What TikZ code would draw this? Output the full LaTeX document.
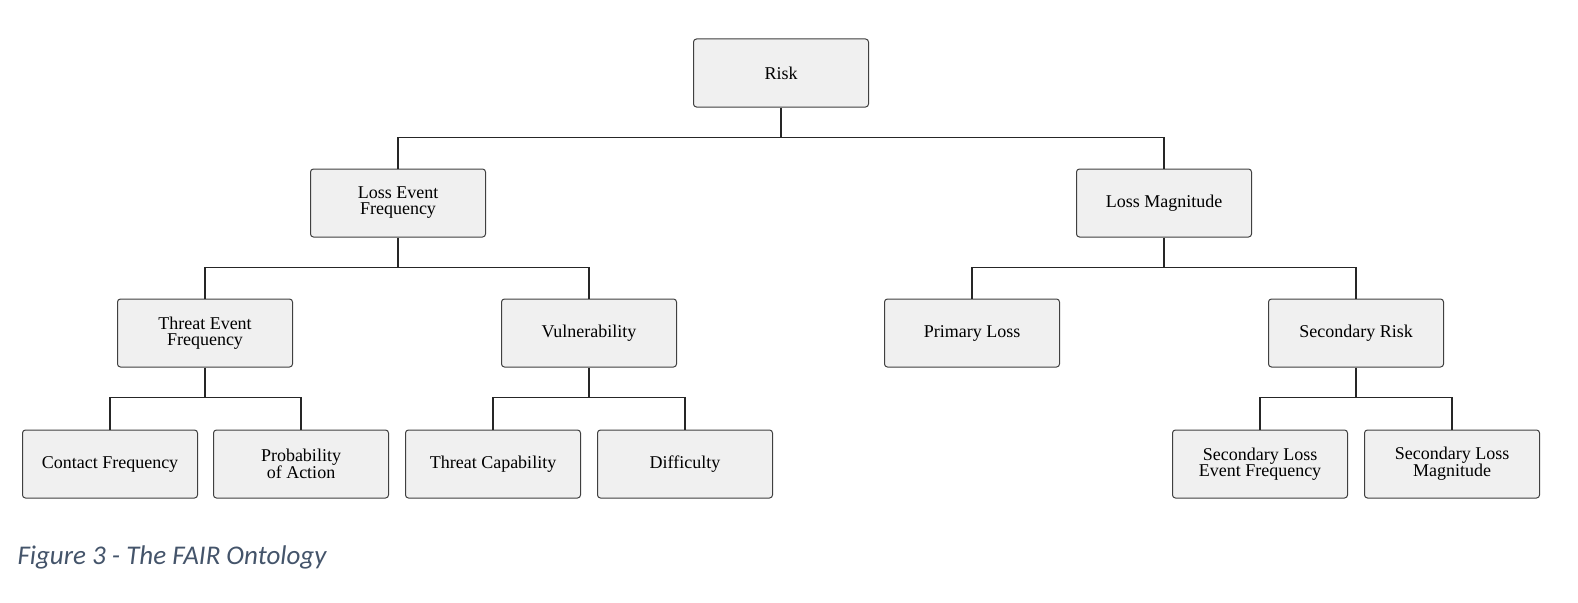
\documentclass[tikz,border=0pt]{standalone}
\usepackage{fontspec}
\setmainfont{Liberation Serif}
\newfontfamily\capfont{Carlito}
\definecolor{capcol}{HTML}{44546A}
\begin{document}
\begin{tikzpicture}[x=1pt,y=-1pt,
  box/.style={draw=black!75,fill=black!6,rounded corners=3pt,minimum width=175pt,minimum height=68pt,align=center,font=\fontsize{18}{16}\selectfont,line width=1pt},
  conn/.style={draw=black!85,line width=1.3pt}]
\useasboundingbox (0,0) rectangle (1578,602);
\node[box] (risk) at (781,73) {Risk};
\node[box] (lef) at (398,203) {Loss Event\\Frequency};
\node[box] (lm) at (1164,203) {Loss Magnitude};
\node[box] (tef) at (205,333) {Threat Event\\Frequency};
\node[box] (vul) at (589,333) {Vulnerability};
\node[box] (pl) at (972,333) {Primary Loss};
\node[box] (sr) at (1356,333) {Secondary Risk};
\node[box] (cf) at (110,464) {Contact Frequency};
\node[box] (poa) at (301,464) {Probability\\of Action};
\node[box] (tc) at (493,464) {Threat Capability};
\node[box] (dif) at (685,464) {Difficulty};
\node[box] (slef) at (1260,464) {Secondary Loss\\Event Frequency};
\node[box] (slm) at (1452,464) {Secondary Loss\\Magnitude};
\draw[conn] (risk.south) -- ++(0,30) coordinate (r1);
\draw[conn] (lef.north) |- (lm.north |- r1) -- (lm.north);
\draw[conn] (lef.south) -- ++(0,30) coordinate (l1);
\draw[conn] (tef.north) |- (vul.north |- l1) -- (vul.north);
\draw[conn] (lm.south) -- ++(0,30) coordinate (m1);
\draw[conn] (pl.north) |- (sr.north |- m1) -- (sr.north);
\draw[conn] (tef.south) -- ++(0,30) coordinate (t1);
\draw[conn] (cf.north) |- (poa.north |- t1) -- (poa.north);
\draw[conn] (vul.south) -- ++(0,30) coordinate (v1);
\draw[conn] (tc.north) |- (dif.north |- v1) -- (dif.north);
\draw[conn] (sr.south) -- ++(0,30) coordinate (s1);
\draw[conn] (slef.north) |- (slm.north |- s1) -- (slm.north);
\node[anchor=west,font=\capfont\itshape\fontsize{27}{30}\selectfont,text=capcol] (cap) at (14,557) {Figure 3 - The FAIR Ontology};
\end{tikzpicture}
\end{document}
